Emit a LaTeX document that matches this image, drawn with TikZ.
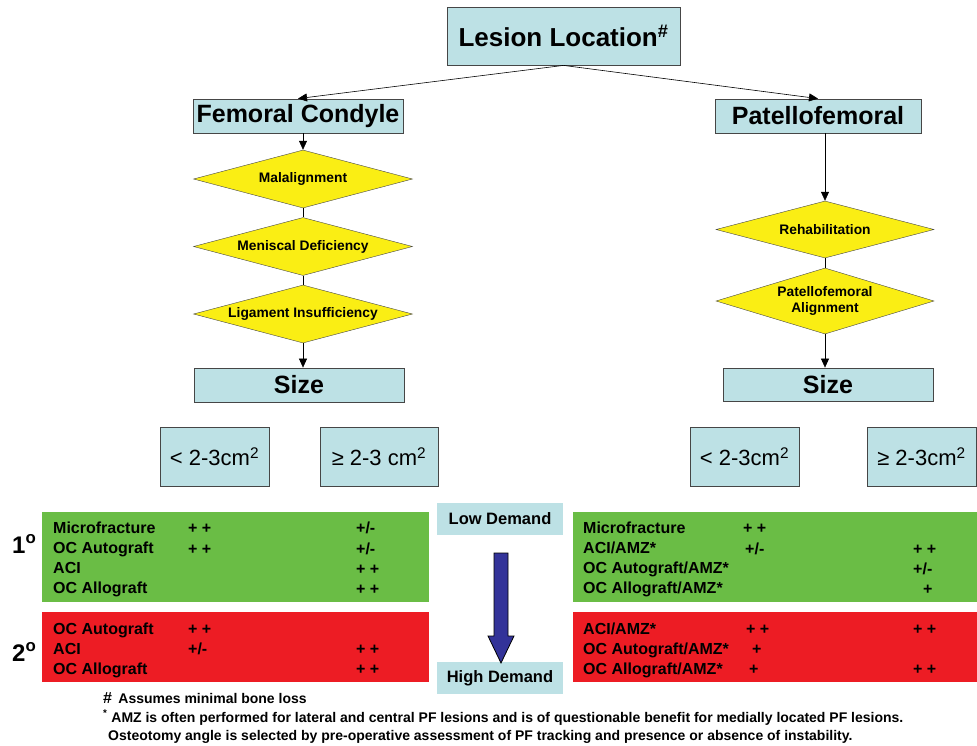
\documentclass[tikz,border=0pt]{standalone}
\usepackage{fontspec}
\setmainfont{Liberation Sans}
\usepackage{tikz}
\usetikzlibrary{shapes.geometric,arrows.meta}
\usepackage{xcolor}

\definecolor{boxblue}{RGB}{189,225,229}
\definecolor{diayellow}{RGB}{250,238,20}
\definecolor{tiergreen}{RGB}{106,189,69}
\definecolor{tierred}{RGB}{237,28,36}
\definecolor{demandblue}{RGB}{51,51,153}
\definecolor{edgegray}{RGB}{70,70,70}

\tikzset{
  bluebox/.style={draw=edgegray, fill=boxblue, line width=0.8pt, inner sep=0pt, font=\bfseries\fontsize{25}{27}\selectfont},
  sizebox/.style={bluebox, font=\fontsize{22}{24}\selectfont, minimum width=109, minimum height=59},
  decision/.style={diamond, draw=edgegray, fill=diayellow, aspect=3.8, inner sep=0pt, minimum width=219, minimum height=58, align=center, font=\bfseries\fontsize{13.8}{15.5}\selectfont},
  demand/.style={fill=boxblue, minimum width=126, minimum height=32, inner sep=0pt, font=\bfseries\fontsize{16.5}{18}\selectfont},
  tier/.style={anchor=north west, inner sep=0pt, minimum height=90},
  entry/.style={anchor=base west, inner sep=0pt, font=\bfseries\fontsize{16}{18}\selectfont},
  note/.style={anchor=base west, inner sep=0pt, font=\bfseries\fontsize{14}{16}\selectfont},
  flow/.style={-{Triangle[length=9pt,width=8pt]}, line width=0.6pt},
  link/.style={line width=0.6pt}
}

\begin{document}
\begin{tikzpicture}[x=1pt, y=-1pt]
  \useasboundingbox (0,0) rectangle (977,745);

  \node[bluebox, minimum width=233, minimum height=58, font=\bfseries\fontsize{26}{28}\selectfont] (lesion) at (563.5,36) {Lesion Location\textsuperscript{\#}};
  \node[bluebox, minimum width=210, minimum height=34] (femoral) at (298,116) {Femoral Condyle};
  \node[bluebox, minimum width=206, minimum height=34] (patello) at (818,116) {Patellofemoral};

  \node[decision] (malign) at (303,179) {Malalignment};
  \node[decision] (menisc) at (303,246.5) {Meniscal Deficiency};
  \node[decision] (ligam) at (303,314) {Ligament Insufficiency};
  \node[decision, minimum width=218, minimum height=57] (rehab) at (825,229.5) {Rehabilitation};
  \node[decision, minimum width=218, minimum height=66] (pfalign) at (825,301) {Patellofemoral\\Alignment};

  \node[bluebox, minimum width=210, minimum height=34] (sizefc) at (299,385) {Size};
  \node[bluebox, minimum width=210, minimum height=33] (sizepf) at (828,384.5) {Size};

  \node[sizebox] (fcsmall) at (214.5,456.5) {< 2-3cm\textsuperscript{2}};
  \node[sizebox, minimum width=118] (fclarge) at (379,456.5) {≥ 2-3 cm\textsuperscript{2}};
  \node[sizebox] (pfsmall) at (744.5,456.5) {< 2-3cm\textsuperscript{2}};
  \node[sizebox] (pflarge) at (921.5,456.5) {≥ 2-3cm\textsuperscript{2}};

  \draw[flow] (lesion.south) -- (femoral.north);
  \draw[flow] (lesion.south) -- (patello.north);
  \draw[flow] (femoral.south -| malign.north) -- (malign.north);
  \draw[link] (malign.south) -- (menisc.north);
  \draw[link] (menisc.south) -- (ligam.north);
  \draw[flow] (ligam.south) -- (ligam.south |- sizefc.north);
  \draw[flow] (patello.south -| rehab.north) -- (rehab.north);
  \draw[link] (rehab.south) -- (pfalign.north);
  \draw[flow] (pfalign.south) -- (pfalign.south |- sizepf.north);

  % treatment tiers
  \node[tier, fill=tiergreen, minimum width=387] (primfc) at (42,512) {};
  \node[tier, fill=tiergreen, minimum width=404] (primpf) at (573,512) {};
  \node[tier, fill=tierred, minimum width=387, minimum height=70] (secfc) at (42,612) {};
  \node[tier, fill=tierred, minimum width=404, minimum height=70] (secpf) at (573,612) {};

  \node[entry, font=\bfseries\fontsize{24}{26}\selectfont] (first) at (12,553) {1\textsuperscript{o}};
  \node[entry, font=\bfseries\fontsize{24}{26}\selectfont] (second) at (12,661) {2\textsuperscript{o}};

  \foreach \txt [count=\i] in {Microfracture, OC Autograft, ACI, OC Allograft}
    \node[entry] (pfc\i) at (53,512.7+\i*20.3) {\txt};
  \foreach \txt [count=\i] in {OC Autograft, ACI, OC Allograft}
    \node[entry] (sfc\i) at (53,613.7+\i*20.3) {\txt};
  \foreach \txt [count=\i] in {Microfracture, ACI/AMZ*, OC Autograft/AMZ*, OC Allograft/AMZ*}
    \node[entry] (ppf\i) at (583,512.7+\i*20.3) {\txt};
  \foreach \txt [count=\i] in {ACI/AMZ*, OC Autograft/AMZ*, OC Allograft/AMZ*}
    \node[entry] (spf\i) at (583,613.7+\i*20.3) {\txt};

  \foreach \x/\y/\m [count=\k] in {188/533/{+ +}, 188/554/{+ +}, 356/533/{+/-}, 356/554/{+/-}, 356/574/{+ +}, 356/594/{+ +},
      188/634/{+ +}, 188/654/{+/-}, 356/654/{+ +}, 356/674/{+ +},
      743/533/{+ +}, 745/554/{+/-}, 913/554/{+ +}, 913/574/{+/-}, 923/594/{+},
      746/634/{+ +}, 913/634/{+ +}, 752/654/{+}, 749/674/{+}, 913/674/{+ +}}
    \node[entry] (mark\k) at (\x,\y) {\m};

  \node[demand] (low) at (500,519) {Low Demand};
  \node[demand] (high) at (500,678) {High Demand};
  \draw[fill=demandblue, line width=0.8pt] (494,553) -- (508,553) -- (508,636) -- (514,636) -- (501,663) -- (488,636) -- (494,636) -- cycle;

  \node[note] (fnbone) at (103,703) {{\fontsize{16}{18}\selectfont\#}\hspace{0.45em}Assumes minimal bone loss};
  \node[note] (fnamz) at (103,722) {\textsuperscript{*} AMZ is often performed for lateral and central PF lesions and is of questionable benefit for medially located PF lesions.};
  \node[note] (fnosteo) at (108,740) {Osteotomy angle is selected by pre-operative assessment of PF tracking and presence or absence of instability.};
\end{tikzpicture}
\end{document}
